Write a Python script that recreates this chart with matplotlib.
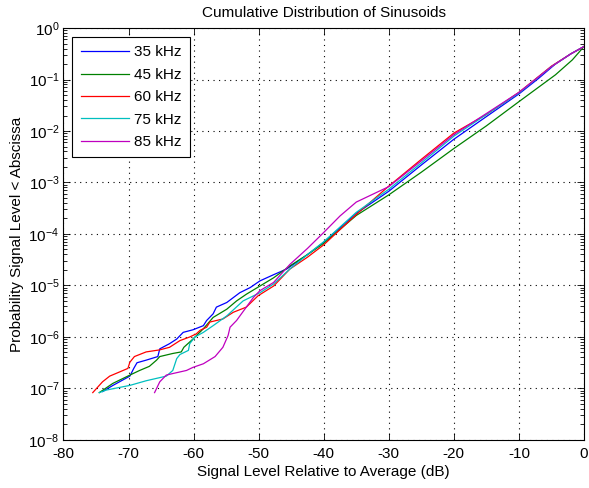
import numpy as np
import matplotlib
matplotlib.use("Agg")
import matplotlib.pyplot as plt
from matplotlib.ticker import FixedLocator, LogLocator, NullFormatter

plt.rcParams["font.family"] = ["Liberation Sans", "DejaVu Sans"]
plt.rcParams["mathtext.fontset"] = "custom"
plt.rcParams["mathtext.rm"] = "Liberation Sans"
plt.rcParams["mathtext.default"] = "regular"
plt.rcParams["axes.unicode_minus"] = False

# signal level (dB re average) and log10 of the cumulative probability
x_35 = [-74.0, -72.4, -69.8, -69.2, -68.7, -67.3, -65.5, -65.2, -63.7, -62.6,
        -61.6, -60.1, -58.5, -58.0, -57.0, -56.5, -54.9, -52.9, -51.3, -49.8,
        -47.7, -45.7, -42.5, -40.0, -35.0, -30.0, -25.0, -20.0, -15.0, -10.0,
        -7.0, -4.4, -2.0, 0.0]
lp_35 = [-7.06, -6.94, -6.76, -6.61, -6.50, -6.45, -6.38, -6.23, -6.13, -6.04,
         -5.91, -5.86, -5.78, -5.68, -5.55, -5.42, -5.33, -5.14, -5.04, -4.91,
         -4.79, -4.68, -4.40, -4.16, -3.60, -3.17, -2.66, -2.16, -1.72, -1.28,
         -0.98, -0.70, -0.50, -0.36]

x_45 = [-74.5, -72.4, -69.8, -68.3, -66.8, -65.7, -65.2, -63.2, -61.9, -61.5,
        -60.1, -58.5, -57.0, -54.9, -53.4, -51.9, -49.8, -47.7, -45.2, -42.5,
        -40.0, -35.0, -30.0, -25.0, -20.0, -15.0, -10.0, -4.4, -1.8, 0.0]
lp_45 = [-7.08, -6.90, -6.74, -6.65, -6.57, -6.45, -6.38, -6.32, -6.29, -6.20,
         -6.04, -5.84, -5.62, -5.46, -5.30, -5.17, -5.01, -4.85, -4.62, -4.40,
         -4.18, -3.64, -3.24, -2.80, -2.34, -1.90, -1.43, -0.91, -0.62, -0.36]

x_60 = [-75.5, -74.0, -72.9, -71.4, -70.1, -69.8, -69.1, -67.3, -65.2, -63.7,
        -62.1, -60.6, -59.6, -59.0, -58.0, -57.5, -55.5, -53.9, -51.9, -50.1,
        -47.7, -45.2, -42.5, -40.0, -35.0, -30.0, -25.0, -20.0, -15.0, -10.0,
        -5.0, -2.0, 0.0]
lp_60 = [-7.08, -6.87, -6.76, -6.68, -6.61, -6.49, -6.38, -6.29, -6.25, -6.20,
         -6.07, -6.00, -5.94, -5.87, -5.81, -5.71, -5.65, -5.52, -5.42, -5.20,
         -5.01, -4.68, -4.45, -4.21, -3.62, -3.07, -2.55, -2.04, -1.68, -1.25,
         -0.74, -0.50, -0.36]

x_75 = [-74.5, -73.4, -69.8, -67.3, -64.2, -63.2, -62.6, -62.1, -60.8, -60.6,
        -59.8, -58.5, -57.0, -54.9, -52.4, -49.8, -47.7, -45.2, -42.5, -40.0,
        -35.0, -30.0, -25.0, -20.0, -15.0, -10.0, -5.0, -2.0, 0.0]
lp_75 = [-7.08, -7.03, -6.94, -6.85, -6.76, -6.65, -6.42, -6.34, -6.26, -6.13,
         -6.00, -5.91, -5.78, -5.59, -5.30, -5.14, -4.97, -4.68, -4.40, -4.15,
         -3.58, -3.13, -2.62, -2.10, -1.68, -1.26, -0.75, -0.50, -0.36]

x_85 = [-66.0, -65.2, -64.2, -63.2, -61.1, -60.1, -58.5, -56.7, -55.5, -54.7,
        -54.4, -53.4, -51.9, -50.8, -49.8, -47.7, -45.2, -42.5, -40.0, -37.5,
        -35.0, -32.0, -30.0, -25.0, -20.0, -15.0, -10.0, -5.0, -2.0, 0.0]
lp_85 = [-7.08, -6.87, -6.74, -6.71, -6.65, -6.59, -6.52, -6.38, -6.20, -5.97,
         -5.81, -5.68, -5.42, -5.23, -5.10, -4.94, -4.59, -4.28, -3.97, -3.65,
         -3.38, -3.20, -3.08, -2.58, -2.07, -1.66, -1.25, -0.75, -0.50, -0.36]

labels = ["35 kHz", "45 kHz", "60 kHz", "75 kHz", "85 kHz"]
colors = ["#0000ff", "#008000", "#ff0000", "#00bfbf", "#bf00bf"]
series = [(x_35, lp_35), (x_45, lp_45), (x_60, lp_60), (x_75, lp_75), (x_85, lp_85)]

x_ticks = [-80, -70, -60, -50, -40, -30, -20, -10, 0]
y_decades = [1e-8, 1e-7, 1e-6, 1e-5, 1e-4, 1e-3, 1e-2, 1e-1, 1e0]

fig = plt.figure(figsize=(5.89, 4.88), dpi=100)
ax = fig.add_axes([0.1078, 0.0984, 0.8837, 0.8442])

for (xs, lps), lab, col in zip(series, labels, colors):
    ax.semilogy(xs, np.power(10.0, lps), color=col, lw=0.9, label=lab)

ax.set_xlim(-80, 0)
ax.set_ylim(1e-8, 1)
ax.xaxis.set_major_locator(FixedLocator(x_ticks))
ax.yaxis.set_major_locator(FixedLocator(y_decades))
ax.yaxis.set_minor_locator(LogLocator(base=10, subs=np.arange(2, 10), numticks=20))
ax.yaxis.set_minor_formatter(NullFormatter())

ax.grid(True, which="major", color="black", linestyle=(0, (1, 4)), lw=0.8)
ax.tick_params(which="both", direction="in", top=True, right=True, labelsize=11)
ax.tick_params(which="major", length=5, width=0.6)
ax.tick_params(which="minor", length=3, width=0.6)
ax.tick_params(axis="x", pad=5)
ax.tick_params(axis="y", pad=3)
for sp in ax.spines.values():
    sp.set_linewidth(0.8)

ax.set_title("Cumulative Distribution of Sinusoids", fontsize=11, pad=8)
ax.set_xlabel("Signal Level Relative to Average (dB)", fontsize=11, labelpad=3)
ax.set_ylabel("Probability Signal Level < Abscissa", fontsize=11, labelpad=3)

leg = ax.legend(loc="upper left", bbox_to_anchor=(0.0167, 0.978), borderaxespad=0,
                fontsize=11, handlelength=3.2, handletextpad=0.3, labelspacing=0.55,
                borderpad=0.55, fancybox=False, framealpha=1, edgecolor="black")
leg.get_frame().set_linewidth(0.8)

fig.savefig("out.png", dpi=100)
